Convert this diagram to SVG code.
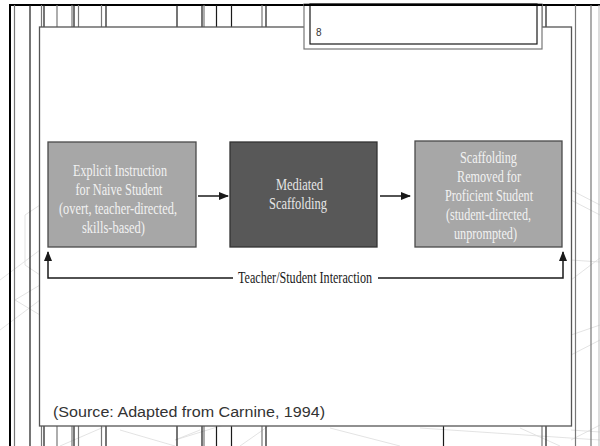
<svg xmlns="http://www.w3.org/2000/svg" width="600" height="446" viewBox="0 0 600 446">
  <style>
    .rule-dark { stroke: #1a1a1a; stroke-width: 1.2; fill: none; }
    .rule-gray { stroke: #777; stroke-width: 1.2; fill: none; }
    .deco { stroke: #dcdcdc; stroke-width: 0.8; fill: none; }
    .box-light { fill: #a7a7a7; stroke: #4a4a4a; stroke-width: 1.3; }
    .box-dark { fill: #585858; stroke: #333; stroke-width: 1.3; }
    .label { font-family: "Liberation Serif", "Times New Roman", serif; font-size: 16.5px; text-anchor: middle; }
    .label-light { fill: #f2f2f2; }
    .label-dark { fill: #e6e6e6; }
    .caption { font-family: "Liberation Serif", "Times New Roman", serif; font-size: 17px; fill: #1a1a1a; }
    .source { font-family: "Liberation Sans", Arial, sans-serif; font-size: 15.5px; fill: #333; }
    .pagenum { font-family: "Liberation Sans", Arial, sans-serif; font-size: 10px; fill: #333; }
    .conn { stroke: #1a1a1a; stroke-width: 1.5; fill: none; }
  </style>
  <defs>
    <marker id="head" markerUnits="userSpaceOnUse" markerWidth="10" markerHeight="8" refX="9" refY="4" orient="auto">
      <path d="M0,0 L10,4 L0,8 z" fill="#1a1a1a"/>
    </marker>
  </defs>

  <rect x="0" y="0" width="600" height="446" fill="#fff"/>

  <!-- faint background pattern -->
  <g id="pattern">
    <path class="deco" d="M25,215 L40,205 M25,215 L25,265 L40,275 M0,280 L40,250"/>
    <path class="deco" d="M15,300 L40,285 M15,300 L40,315 M0,330 L40,300"/>
    <path class="deco" d="M60,446 L120,420 M120,430 L175,446 M175,440 L240,420 M240,446 L270,425 M175,440 L200,430"/>
    <path class="deco" d="M330,428 L400,446 M420,428 L600,440 M520,428 L560,446"/>
    <path class="deco" d="M571,190 L600,205 M571,200 L600,215 M571,260 L600,262 M571,280 L600,258 M571,335 L600,325 M571,355 L600,340"/>
    <path class="deco" d="M571,440 L600,425 M571,430 L600,432"/>
    <path class="deco" d="M245,30 L270,27"/>
  </g>

  <!-- outer frame rules -->
  <g id="frame">
    <line x1="9" y1="5" x2="600" y2="5" stroke="#000" stroke-width="2"/>
    <line x1="10" y1="5" x2="10" y2="446" stroke="#000" stroke-width="2"/>
    <line class="rule-gray" x1="14.5" y1="5" x2="14.5" y2="446"/>
    <line class="rule-dark" x1="30" y1="5" x2="30" y2="446"/>
    <line class="rule-gray" x1="41.5" y1="5" x2="41.5" y2="446"/>
    <line class="rule-dark" x1="44" y1="5" x2="44" y2="446"/>
    <line class="rule-gray" x1="57" y1="5" x2="57" y2="446"/>
    <line class="rule-gray" x1="72" y1="5" x2="72" y2="446"/>
    <line class="rule-dark" x1="74" y1="5" x2="74" y2="446"/>
    <line class="rule-gray" x1="78.5" y1="5" x2="78.5" y2="446"/>
    <line class="rule-gray" x1="101.5" y1="5" x2="101.5" y2="446"/>
    <line class="rule-dark" x1="106" y1="5" x2="106" y2="446"/>
    <line class="rule-dark" x1="177" y1="5" x2="177" y2="446"/>
    <line class="rule-dark" x1="202" y1="5" x2="202" y2="446"/>
    <line class="rule-gray" x1="204" y1="5" x2="204" y2="446"/>
    <line class="rule-dark" x1="216.5" y1="5" x2="216.5" y2="446"/>
    <line class="rule-dark" x1="231.5" y1="5" x2="231.5" y2="446"/>
    <line class="rule-gray" x1="262" y1="5" x2="262" y2="446"/>
    <line class="rule-dark" x1="266" y1="5" x2="266" y2="446"/>
    <line class="rule-dark" x1="443.5" y1="5" x2="443.5" y2="446"/>
    <line class="rule-gray" x1="542" y1="5" x2="542" y2="446"/>
    <line class="rule-dark" x1="546" y1="5" x2="546" y2="446"/>
    <line class="rule-gray" x1="575.5" y1="5" x2="575.5" y2="446"/>
    <line class="rule-gray" x1="591" y1="5" x2="591" y2="446"/>
    <line x1="599" y1="5" x2="599" y2="446" stroke="#bbb" stroke-width="1"/>
  </g>

  <!-- content panel -->
  <rect id="panel" x="39.5" y="27" width="532" height="399" fill="#fff" stroke="#555" stroke-width="1.3"/>

  <!-- page number tab -->
  <g id="page-tab">
    <rect x="304" y="4" width="238" height="45" fill="#fff" stroke="#777" stroke-width="1.2"/>
    <rect x="310" y="4" width="227" height="40" fill="#fff" stroke="#1a1a1a" stroke-width="1.2"/>
    <line x1="304" y1="5" x2="542" y2="5" stroke="#000" stroke-width="2"/>
    <text class="pagenum" x="316" y="36">8</text>
  </g>

  <!-- connectors -->
  <g id="connectors">
    <line class="conn" x1="198" y1="196" x2="228" y2="196" marker-end="url(#head)"/>
    <line class="conn" x1="380" y1="196" x2="410" y2="196" marker-end="url(#head)"/>
    <path class="conn" d="M233,278 H48 V252" marker-end="url(#head)"/>
    <path class="conn" d="M378,278 H563 V252" marker-end="url(#head)"/>
    <text class="caption" x="238" y="283" textLength="134" lengthAdjust="spacingAndGlyphs">Teacher/Student Interaction</text>
  </g>

  <g id="explicit-instruction">
    <rect class="box-light" x="48" y="142" width="148" height="105"/>
    <text class="label label-light" x="120" y="176" textLength="94" lengthAdjust="spacingAndGlyphs">Explicit Instruction</text>
    <text class="label label-light" x="119" y="195" textLength="87" lengthAdjust="spacingAndGlyphs">for Naive Student</text>
    <text class="label label-light" x="118" y="214" textLength="118" lengthAdjust="spacingAndGlyphs">(overt, teacher-directed,</text>
    <text class="label label-light" x="113.5" y="233" textLength="63" lengthAdjust="spacingAndGlyphs">skills-based)</text>
  </g>

  <g id="mediated-scaffolding">
    <rect class="box-dark" x="230" y="142" width="147" height="105"/>
    <text class="label label-dark" x="299.5" y="190" textLength="47" lengthAdjust="spacingAndGlyphs">Mediated</text>
    <text class="label label-dark" x="298" y="209" textLength="58" lengthAdjust="spacingAndGlyphs">Scaffolding</text>
  </g>

  <g id="scaffolding-removed">
    <rect class="box-light" x="415" y="141" width="147" height="106"/>
    <text class="label label-light" x="488.5" y="163" textLength="57" lengthAdjust="spacingAndGlyphs">Scaffolding</text>
    <text class="label label-light" x="489" y="182" textLength="64" lengthAdjust="spacingAndGlyphs">Removed for</text>
    <text class="label label-light" x="489" y="201" textLength="88" lengthAdjust="spacingAndGlyphs">Proficient Student</text>
    <text class="label label-light" x="488.5" y="220" textLength="85" lengthAdjust="spacingAndGlyphs">(student-directed,</text>
    <text class="label label-light" x="485.5" y="239" textLength="63" lengthAdjust="spacingAndGlyphs">unprompted)</text>
  </g>

  <text class="source" x="53" y="417" textLength="272" lengthAdjust="spacingAndGlyphs">(Source: Adapted from Carnine, 1994)</text>
</svg>
